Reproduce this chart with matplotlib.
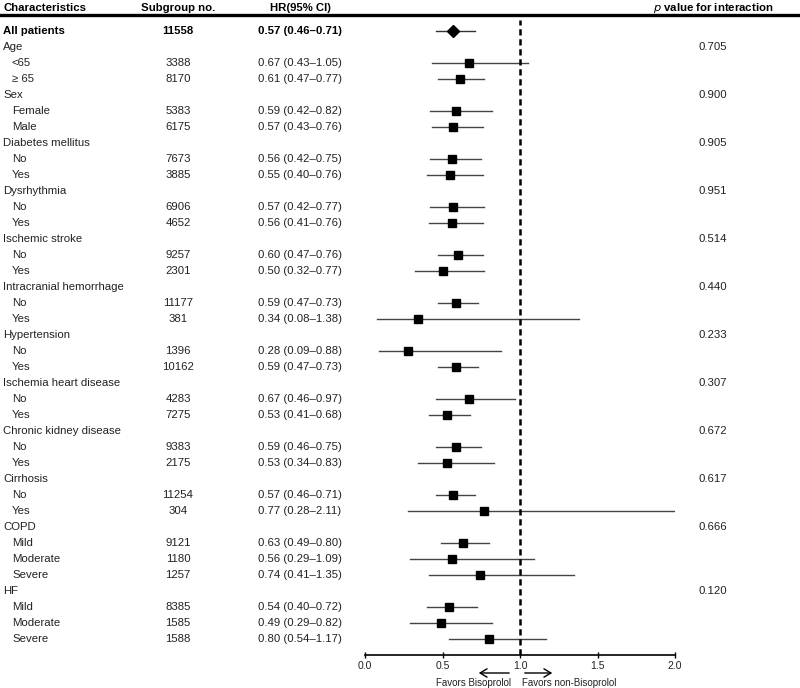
import matplotlib.pyplot as plt
import matplotlib.transforms as mtransforms
from matplotlib.lines import Line2D

plt.rcParams['font.family'] = ['Liberation Sans', 'DejaVu Sans']

# data
overall_label = "All patients"
overall_n = 11558
overall_hr = 0.57
overall_lo = 0.46
overall_hi = 0.71

groups = ["Age", "Sex", "Diabetes mellitus", "Dysrhythmia", "Ischemic stroke",
          "Intracranial hemorrhage", "Hypertension", "Ischemia heart disease",
          "Chronic kidney disease", "Cirrhosis", "COPD", "HF"]
group_p = ["0.705", "0.900", "0.905", "0.951", "0.514", "0.440", "0.233",
           "0.307", "0.672", "0.617", "0.666", "0.120"]
sub_labels = [["<65", "\u2265 65"], ["Female", "Male"], ["No", "Yes"], ["No", "Yes"],
              ["No", "Yes"], ["No", "Yes"], ["No", "Yes"], ["No", "Yes"],
              ["No", "Yes"], ["No", "Yes"], ["Mild", "Moderate", "Severe"],
              ["Mild", "Moderate", "Severe"]]
sub_n = [[3388, 8170], [5383, 6175], [7673, 3885], [6906, 4652], [9257, 2301],
         [11177, 381], [1396, 10162], [4283, 7275], [9383, 2175], [11254, 304],
         [9121, 1180, 1257], [8385, 1585, 1588]]
sub_hr = [[0.67, 0.61], [0.59, 0.57], [0.56, 0.55], [0.57, 0.56], [0.60, 0.50],
          [0.59, 0.34], [0.28, 0.59], [0.67, 0.53], [0.59, 0.53], [0.57, 0.77],
          [0.63, 0.56, 0.74], [0.54, 0.49, 0.80]]
sub_lo = [[0.43, 0.47], [0.42, 0.43], [0.42, 0.40], [0.42, 0.41], [0.47, 0.32],
          [0.47, 0.08], [0.09, 0.47], [0.46, 0.41], [0.46, 0.34], [0.46, 0.28],
          [0.49, 0.29, 0.41], [0.40, 0.29, 0.54]]
sub_hi = [[1.05, 0.77], [0.82, 0.76], [0.75, 0.76], [0.77, 0.76], [0.76, 0.77],
          [0.73, 1.38], [0.88, 0.73], [0.97, 0.68], [0.75, 0.83], [0.71, 2.11],
          [0.80, 1.09, 1.35], [0.72, 0.82, 1.17]]

xticks = [0.0, 0.5, 1.0, 1.5, 2.0]

W, H = 800, 688
fig = plt.figure(figsize=(W / 100, H / 100), dpi=100)

# forest axes, rows in index units (row 0 = All patients)
ax = fig.add_axes([365 / W, 33 / H, 310 / W, 635 / H])
ax.set_xlim(0, 2)
ax.set_ylim(39.0, -0.6875)
for s in ["top", "right", "left"]:
    ax.spines[s].set_visible(False)
ax.spines["bottom"].set_linewidth(1.2)
ax.set_yticks([])
ax.set_xticks(xticks)
ax.set_xticklabels(["%.1f" % t for t in xticks], fontsize=7.5, color="#222222")
ax.tick_params(axis="x", direction="inout", length=4, width=1, pad=2)

tr = mtransforms.blended_transform_factory(fig.transFigure, ax.transData)
fs = 8.2
xc, xs, xn, xhr, xp = 3 / W, 12 / W, 178 / W, 300 / W, 713 / W

# header
fig.text(xc, 1 - 8 / H, "Characteristics", fontsize=fs, fontweight="bold", va="center")
fig.text(xn, 1 - 8 / H, "Subgroup no.", fontsize=fs, fontweight="bold", va="center", ha="center")
fig.text(xhr, 1 - 8 / H, "HR(95% CI)", fontsize=fs, fontweight="bold", va="center", ha="center")
fig.text(773 / W, 1 - 8 / H, r"$\bf{\it{p}}$ value for interaction", fontsize=fs,
         fontweight="bold", va="center", ha="right")
fig.add_artist(Line2D([0, 1], [1 - 14.5 / H, 1 - 14.5 / H], transform=fig.transFigure,
                      color="black", lw=2.4))

# overall row
row = 0
ax.text(xc, row, overall_label, transform=tr, fontsize=fs, fontweight="bold", va="center")
ax.text(xn, row, str(overall_n), transform=tr, fontsize=fs, fontweight="bold", va="center", ha="center")
ax.text(xhr, row, "%.2f (%.2f\u2013%.2f)" % (overall_hr, overall_lo, overall_hi), transform=tr,
        fontsize=fs, fontweight="bold", va="center", ha="center")
ax.plot([overall_lo, overall_hi], [row, row], color="#333333", lw=1)
ax.plot(overall_hr, row, marker="D", ms=6, color="black")

row += 1
for g, p, labs, ns, hrs, los, his in zip(groups, group_p, sub_labels, sub_n, sub_hr, sub_lo, sub_hi):
    ax.text(xc, row, g, transform=tr, fontsize=fs, va="center", color="#222222")
    ax.text(xp, row, p, transform=tr, fontsize=fs, va="center", ha="center", color="#222222")
    row += 1
    for lab, n, hr, lo, hi in zip(labs, ns, hrs, los, his):
        ax.text(xs, row, lab, transform=tr, fontsize=fs, va="center", color="#222222")
        ax.text(xn, row, str(n), transform=tr, fontsize=fs, va="center", ha="center", color="#222222")
        ax.text(xhr, row, "%.2f (%.2f\u2013%.2f)" % (hr, lo, hi), transform=tr,
                fontsize=fs, va="center", ha="center", color="#222222")
        ax.plot([lo, hi], [row, row], color="#444444", lw=1)
        ax.plot(hr, row, marker="s", ms=5.3, color="black")
        row += 1

ax.axvline(1.0, color="black", lw=1.8, linestyle=(0, (2.5, 1.5)), zorder=5)

# favors arrows
ya = 15 / H
ax.annotate("", xy=(0.716, ya), xytext=(0.948, ya), xycoords=("data", "figure fraction"),
            textcoords=("data", "figure fraction"),
            arrowprops=dict(arrowstyle="->,head_length=0.5,head_width=0.3", lw=1, color="black"))
ax.annotate("", xy=(1.226, ya), xytext=(1.013, ya), xycoords=("data", "figure fraction"),
            textcoords=("data", "figure fraction"),
            arrowprops=dict(arrowstyle="->,head_length=0.5,head_width=0.3", lw=1, color="black"))
ftr = mtransforms.blended_transform_factory(ax.transData, fig.transFigure)
ax.text(0.697, 5.5 / H, "Favors Bisoprolol", transform=ftr,
        fontsize=7, ha="center", va="center", color="#222222")
ax.text(1.32, 5.5 / H, "Favors non-Bisoprolol", transform=ftr,
        fontsize=7, ha="center", va="center", color="#222222")

fig.savefig("out.png", dpi=100)
